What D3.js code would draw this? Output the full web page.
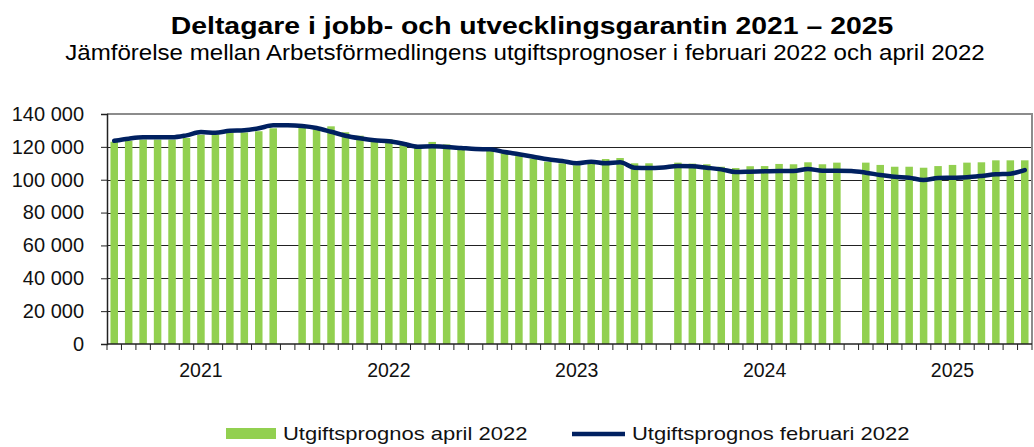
<!DOCTYPE html>
<html>
<head>
<meta charset="utf-8">
<script src="https://cdn.jsdelivr.net/npm/d3@7"></script>
<style>
  body { margin: 0; background: #fff; }
  svg { display: block; font-family: "Liberation Sans", Arial, sans-serif; }
</style>
</head>
<body>
<svg class="chart"></svg>
<script>
// one slot per month, plus an empty slot after each year (not after the last one)
var years = [2021, 2022, 2023, 2024, 2025];

// Utgiftsprognos april 2022 (bars), null = empty separator slot
var aprilBars = [
    123100, 123700, 124400, 124400, 124400, 125400, 127400, 127400, 128600, 128800, 129500, 131300, null,
    131500, 130700, 132500, 128900, 126800, 123700, 124600, 122800, 120700, 123000, 121500, 118100, null,
    117700, 116100, 114400, 112800, 111000, 110000, 108800, 111600, 112600, 113200, 110000, 110000, null,
    110400, 109800, 109400, 107900, 107100, 108200, 108300, 109600, 109400, 110600, 109400, 110400, null,
    110400, 109000, 107900, 107900, 107300, 108300, 109000, 110400, 110600, 111800, 111800, 111800
];

// Utgiftsprognos februari 2022 (line)
var februaryLine = [
    123700, 125000, 125800, 125800, 125800, 127000, 129000, 128600, 129800, 130100, 131300, 133100, 133100,
    132700, 131500, 129200, 126800, 125200, 124000, 123400, 121900, 120100, 120300, 119900, 119300, 118700,
    118500, 116900, 115500, 114000, 112400, 111400, 110000, 111000, 110000, 110600, 107300, 107100, 107500,
    108300, 108200, 107300, 106300, 104700, 104900, 105100, 105300, 105300, 106500, 105500, 105500, 105300,
    104300, 102900, 101800, 101200, 99800, 101000, 101200, 101500, 102300, 103300, 103700, 105900
];

var yTicks = [0, 20000, 40000, 60000, 80000, 100000, 120000, 140000];

var title = "Deltagare i jobb- och utvecklingsgarantin 2021 – 2025";
var subtitle = "Jämförelse mellan Arbetsförmedlingens utgiftsprognoser i februari 2022 och april 2022";
var legendBars = "Utgiftsprognos april 2022";
var legendLine = "Utgiftsprognos februari 2022";

var green = "#92d050", navy = "#002060";

var W = 1034, H = 447;
var margin = {top: 114, right: 2, bottom: 103, left: 107},
    width = W - margin.left - margin.right,
    height = H - margin.top - margin.bottom;

var svg = d3.select(".chart").attr("width", W).attr("height", H);

var slots = d3.range(aprilBars.length);

var x = d3.scaleBand().domain(slots).range([0, width]).paddingInner(0.48).paddingOuter(0.24);
var y = d3.scaleLinear().domain([0, 140000]).range([height, 0]);

var locale = d3.formatLocale({decimal: ",", thousands: " ", grouping: [3], currency: ["", " kr"]});
var fmt = locale.format(",d");

// the original text is a bit flatter than Liberation Sans, so squash it vertically
function flatText(parent, tx, ty, sy, size, str) {
    return parent.append("text")
        .attr("transform", "translate(" + tx + "," + ty + ") scale(1," + sy + ")")
        .style("font-size", size + "px")
        .attr("fill", "#111")
        .text(str);
}

flatText(svg, 532, 34, 0.85, 28.4, title)
    .attr("text-anchor", "middle").style("font-weight", "bold").attr("fill", "#000");
flatText(svg, 525, 60, 0.9, 24.1, subtitle)
    .attr("text-anchor", "middle").attr("fill", "#000");

var g = svg.append("g").attr("transform", "translate(" + margin.left + "," + margin.top + ")");

// grid
g.selectAll("line.grid")
    .data(yTicks.filter(function(d) { return d > 0 && d < 140000; }))
    .enter().append("line")
    .attr("class", "grid")
    .attr("x1", 0).attr("x2", width)
    .attr("y1", function(d) { return Math.round(y(d)) + 0.5; })
    .attr("y2", function(d) { return Math.round(y(d)) + 0.5; })
    .attr("stroke", "#222").attr("stroke-width", 1);

// plot border (top + right in grey)
g.append("path")
    .attr("d", "M0," + y(140000) + "H" + width + "V" + height)
    .attr("fill", "none").attr("stroke", "#8c8c8c").attr("stroke-width", 2);

// bars
g.selectAll("rect.bar")
    .data(slots.filter(function(i) { return aprilBars[i] != null; }))
    .enter().append("rect")
    .attr("class", "bar")
    .attr("x", function(i) { return x(i); })
    .attr("width", x.bandwidth())
    .attr("y", function(i) { return y(aprilBars[i]); })
    .attr("height", function(i) { return height - y(aprilBars[i]); })
    .attr("fill", green);

// line
var line = d3.line()
    .x(function(d, i) { return x(i) + x.bandwidth() / 2; })
    .y(function(d) { return y(d); })
    .curve(d3.curveMonotoneX);

g.append("path")
    .datum(februaryLine)
    .attr("d", line)
    .attr("fill", "none")
    .attr("stroke", navy)
    .attr("stroke-width", 4.5)
    .attr("stroke-linejoin", "round")
    .attr("stroke-linecap", "round");

// y axis
var yAxis = d3.axisLeft(y).tickValues(yTicks).tickFormat(fmt).tickSize(6).tickPadding(17);
var ya = g.append("g").call(yAxis);
ya.select(".domain").attr("stroke", "#222").attr("stroke-width", 1.5);
ya.selectAll(".tick line").attr("stroke", "#222");
ya.selectAll(".tick text").style("font-size", "20px").attr("fill", "#111")
    .style("font-family", "'Liberation Sans', Arial, sans-serif");

// x axis: ticks between slots, year labels under each group
var step = x.step();
var xa = g.append("g").attr("transform", "translate(0," + height + ")");
xa.append("line").attr("x1", 0).attr("x2", width).attr("stroke", "#222").attr("stroke-width", 1.5);
xa.selectAll("line.tk")
    .data(d3.range(slots.length + 1))
    .enter().append("line")
    .attr("class", "tk")
    .attr("x1", function(i) { return i * step; })
    .attr("x2", function(i) { return i * step; })
    .attr("y1", 0).attr("y2", 6)
    .attr("stroke", "#222");
xa.selectAll("text.year")
    .data(years)
    .enter().append("text")
    .attr("class", "year")
    .attr("x", function(d, k) { return (13 * k + 6.5) * step; })
    .attr("y", 33)
    .attr("text-anchor", "middle")
    .style("font-size", "19.5px").attr("fill", "#111")
    .text(function(d) { return d; });

// legend
var lg = svg.append("g");
lg.append("rect").attr("x", 226).attr("y", 428).attr("width", 50).attr("height", 11).attr("fill", green);
flatText(lg, 283, 440, 0.86, 22, legendBars);
lg.append("line").attr("x1", 572).attr("x2", 625).attr("y1", 434).attr("y2", 434)
    .attr("stroke", navy).attr("stroke-width", 4.5);
flatText(lg, 632, 440, 0.86, 22, legendLine);
</script>
</body>
</html>
